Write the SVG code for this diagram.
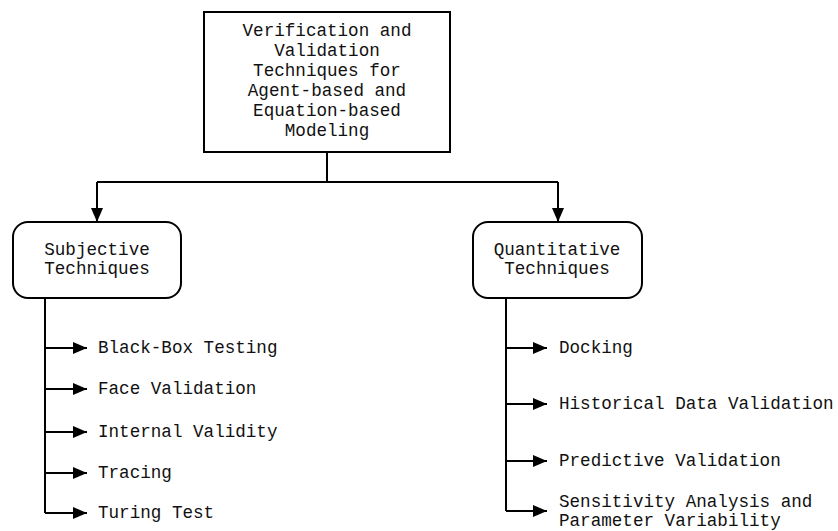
<svg xmlns="http://www.w3.org/2000/svg" width="838" height="531" viewBox="0 0 838 531">
<style>
text{font-family:"Liberation Mono","Courier New",monospace;font-size:17.6px;fill:#111}
.c{text-anchor:middle}
.box{fill:#fff;stroke:#000;stroke-width:2}
.ln{fill:none;stroke:#000;stroke-width:2}
</style>
<defs>
<marker id="ah" markerUnits="userSpaceOnUse" markerWidth="14" markerHeight="12" refX="14" refY="6" orient="auto">
<path d="M0,0 L14,6 L0,12 z" fill="#000"/>
</marker>
</defs>
<rect width="838" height="531" fill="#fff"/>
<g id="connectors">
<path class="ln" d="M327,152 V182"/>
<path class="ln" d="M97,182 H558"/>
<path class="ln" d="M97,182 V222" marker-end="url(#ah)"/>
<path class="ln" d="M558,182 V222" marker-end="url(#ah)"/>
<path class="ln" d="M45,298 V513"/>
<path class="ln" d="M45,348 H87" marker-end="url(#ah)"/>
<path class="ln" d="M45,389 H87" marker-end="url(#ah)"/>
<path class="ln" d="M45,432 H87" marker-end="url(#ah)"/>
<path class="ln" d="M45,473 H87" marker-end="url(#ah)"/>
<path class="ln" d="M45,513 H87" marker-end="url(#ah)"/>
<path class="ln" d="M506,298 V511"/>
<path class="ln" d="M506,348 H547" marker-end="url(#ah)"/>
<path class="ln" d="M506,404 H547" marker-end="url(#ah)"/>
<path class="ln" d="M506,461 H547" marker-end="url(#ah)"/>
<path class="ln" d="M506,511 H547" marker-end="url(#ah)"/>
</g>
<g id="root">
<rect class="box" x="204" y="12" width="246" height="140"/>
<text class="c" x="327" y="36">Verification and</text>
<text class="c" x="327" y="56">Validation</text>
<text class="c" x="327" y="76">Techniques for</text>
<text class="c" x="327" y="96">Agent-based and</text>
<text class="c" x="327" y="116">Equation-based</text>
<text class="c" x="327" y="136">Modeling</text>
</g>
<g id="subjective">
<rect class="box" x="13" y="222" width="168" height="76" rx="15"/>
<text class="c" x="97" y="255">Subjective</text>
<text class="c" x="97" y="274">Techniques</text>
</g>
<g id="quantitative">
<rect class="box" x="473" y="222" width="169" height="76" rx="15"/>
<text class="c" x="557" y="255">Quantitative</text>
<text class="c" x="557" y="274">Techniques</text>
</g>
<g id="blackbox"><text x="98" y="353">Black-Box Testing</text></g>
<g id="face"><text x="98" y="394">Face Validation</text></g>
<g id="internal"><text x="98" y="437">Internal Validity</text></g>
<g id="tracing"><text x="98" y="478">Tracing</text></g>
<g id="turing"><text x="98" y="518">Turing Test</text></g>
<g id="docking"><text x="559" y="353">Docking</text></g>
<g id="historical"><text x="559" y="409">Historical Data Validation</text></g>
<g id="predictive"><text x="559" y="466">Predictive Validation</text></g>
<g id="sensitivity"><text x="559" y="507">Sensitivity Analysis and</text><text x="559" y="526">Parameter Variability</text></g>
</svg>
